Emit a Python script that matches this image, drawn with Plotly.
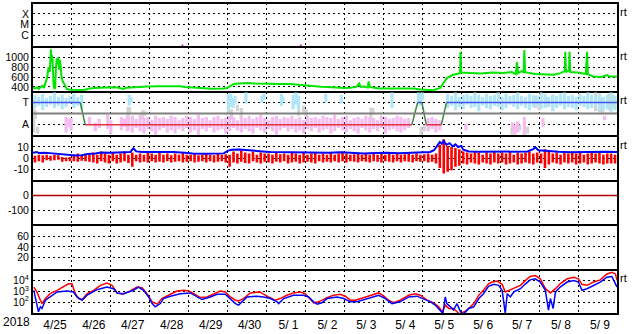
import numpy as np
import pandas as pd
import plotly.graph_objects as go
from plotly.subplots import make_subplots

T0 = pd.Timestamp("2018-04-25 00:00")
N_DAYS = 15
date_labels = ["4/25", "4/26", "4/27", "4/28", "4/29", "4/30", "5/ 1", "5/ 2",
               "5/ 3", "5/ 4", "5/ 5", "5/ 6", "5/ 7", "5/ 8", "5/ 9"]

# ---- X-ray (tiny events near bottom) ----
xray_day = [1.04, 3.84, 5.53, 5.79, 6.88]
xray_peak = [1.2e-7, 1.5e-7, 1.1e-7, 1.1e-7, 1.5e-7]

# ---- Solar wind speed ----
sw_day = [0.00, 0.05, 0.10, 0.15, 0.20, 0.25, 0.28, 0.32, 0.36, 0.40, 0.43, 0.45, 0.46, 0.47,
          0.48, 0.50, 0.51, 0.53, 0.55, 0.57, 0.59, 0.61, 0.63, 0.65, 0.67, 0.69, 0.71, 0.73,
          0.76, 0.79, 0.83, 0.87, 0.95, 1.05, 1.15, 1.25, 1.35, 1.45, 1.6, 1.8, 2.0, 2.17,
          2.25, 2.32, 2.4, 2.5, 2.7, 2.94, 3.2, 3.4, 3.6, 3.78, 3.9, 4.04, 4.2, 4.37, 4.6,
          4.89, 4.99, 5.1, 5.15, 5.3, 5.51, 5.7, 5.92, 6.2, 6.4, 6.61, 6.79, 7.0, 7.2, 7.4,
          7.56, 7.8, 8.0, 8.15, 8.3, 8.38, 8.41, 8.5, 8.6, 8.62, 8.65, 8.8, 8.92, 9.2, 9.5,
          9.77, 9.95, 10.1, 10.28, 10.46, 10.63, 10.79, 10.97, 10.98, 11.0, 11.23, 11.5, 11.8,
          12.08, 12.3, 12.4, 12.43, 12.46, 12.55, 12.6, 12.62, 12.64, 12.9, 13.1, 13.37, 13.55,
          13.66, 13.67, 13.69, 13.77, 13.78, 13.80, 14.0, 14.2, 14.23, 14.25, 14.39, 14.6,
          14.75, 14.8, 15.0]
sw_speed = [380, 370, 390, 360, 400, 420, 380, 470, 580, 800, 700, 1000, 1160, 900,
            1050, 980, 700, 420, 360, 380, 800, 980, 850, 1000, 750, 950, 820, 620,
            520, 470, 400, 360, 345, 340, 345, 338, 345, 370, 380, 392, 395, 390,
            375, 360, 385, 392, 400, 410, 412, 415, 410, 412, 400, 392, 380, 368, 365,
            366, 380, 430, 460, 470, 480, 468, 460, 462, 458, 460, 446, 430, 412, 405,
            400, 385, 380, 385, 400, 470, 400, 410, 390, 510, 400, 380, 366, 368, 365,
            366, 346, 340, 332, 380, 580, 646, 680, 1112, 690, 680, 670, 690,
            680, 700, 660, 900, 680, 720, 700, 1146, 700, 660, 650, 646, 680,
            720, 1112, 700, 740, 1112, 700, 690, 660, 1112, 660, 612, 600,
            640, 610, 612]

# ---- IMF sector (T = +1, A = -1) ----
sector_day = [0.0, 1.215, 1.34, 9.73, 9.88, 9.99, 10.10, 10.49, 10.62, 15.0]
sector_val = [1, 1, -1, -1, 1, 1, -1, -1, 1, 1]

# dense cyan (toward) streaks, regular 0.1-day bins
cyan1_start = 0.05
cyan1_lo = [0.5, 0.7, 0.3, 0.6, 0.8, 0.5, 0.7, 0.4, 0.6, 0.9, 0.5, 0.7, 0.4]
cyan1_hi = [1.7, 1.5, 1.8, 1.4, 1.6, 1.9, 1.5, 1.7, 1.4, 1.6, 1.8, 1.5, 1.7]
cyan2_start = 10.65
cyan2_hi = [1.8, 1.6, 1.9, 1.5, 1.7, 1.8, 1.6, 1.9, 1.7, 1.5,
            1.8, 1.6, 1.7, 1.9, 1.5, 1.8, 1.6, 1.7, 1.9, 1.6,
            1.5, 1.8, 1.7, 1.6, 1.9, 1.8, 1.5, 1.7, 1.6, 1.8,
            1.9, 1.6, 1.7, 1.5, 1.8, 1.6, 1.9, 1.7, 1.6, 1.8,
            1.5, 1.7, 1.9, 1.6]
cyan2_lo = [0.5, 0.7, 0.3, 0.6, 0.4, 0.8, 0.5, 0.6, 0.2, 0.7,
            0.5, 0.4, 0.7, 0.6, 0.3, 0.5, 0.8, 0.6, 0.4, 0.7,
            0.5, 0.3, 0.6, 0.7, 0.4, 0.5, 0.6, 0.2, 0.5, 0.7,
            0.4, 0.6, 0.5, 0.3, 0.7, 0.6, 0.4, 0.5, 0.7, 0.3,
            0.2, 0.4, 0.1, 0.3]
cyan_x_day = [2.47, 2.52, 5.02, 5.08, 5.14, 5.19, 5.47, 5.88, 5.93, 6.38, 6.42, 6.68,
              6.75, 6.82, 7.52, 7.92, 9.22, 9.90, 9.95, 10.0]
cyan_x_lo = [0.7, 1.0, 0.3, 0.6, 0.5, 0.9, 0.9, 1.0, 1.2, 0.7, 1.0, 0.4, 0.8, 0.3,
             1.0, 0.9, 0.5, 1.0, 0.7, 1.2]
cyan_x_hi = [1.7, 1.5, 1.7, 1.8, 1.4, 1.6, 1.9, 1.6, 1.8, 1.8, 1.5, 1.7, 1.9, 1.6,
             1.8, 1.7, 1.9, 1.9, 1.8, 1.9]

# dense pink (away) streaks, regular 0.1-day bins
pink_start = 2.45
pink_hi = [-0.3, -0.2, -0.5, -0.1, -0.4, -0.3, -0.6, -0.2, -0.4, -0.3,
           -0.5, -0.2, -0.3, -0.6, -0.4, -0.2, -0.3, -0.5, -0.1, -0.4,
           -0.3, -0.6, -0.3, -0.2, -0.5, -0.4, -0.2, -0.3, -0.6, -0.3,
           -0.4, -0.2, -0.5, -0.3, -0.1, -0.4, -0.6, -0.3, -0.2, -0.5,
           -0.3, -0.4, -0.2, -0.5, -0.3, -0.6, -0.2, -0.4, -0.3, -0.5,
           -0.2, -0.3, -0.4, -0.1, -0.5, -0.3, -0.2, -0.6, -0.4, -0.3,
           -0.5, -0.2, -0.3, -0.4, -0.6, -0.2, -0.3, -0.5, -0.4, -0.2,
           -0.3, -0.5, -0.4]
pink_lo = [-1.5, -1.7, -1.3, -1.6, -1.8, -1.4, -1.6, -1.9, -1.5, -1.3,
           -1.7, -1.5, -1.8, -1.4, -1.6, -1.3, -1.7, -1.5, -1.9, -1.4,
           -1.6, -1.3, -1.7, -1.5, -1.4, -1.8, -1.6, -1.3, -1.5, -1.7,
           -1.4, -1.6, -1.8, -1.3, -1.5, -1.7, -1.4, -1.6, -1.9, -1.5,
           -1.3, -1.6, -1.4, -1.7, -1.5, -1.8, -1.4, -1.6, -1.3, -1.7,
           -1.5, -1.4, -1.8, -1.6, -1.3, -1.5, -1.7, -1.4, -1.6, -1.8,
           -1.3, -1.5, -1.7, -1.4, -1.6, -1.3, -1.8, -1.5, -1.4, -1.6,
           -1.7, -1.5, -1.3]
pink_x_day = [0.85, 0.92, 0.98, 1.45, 1.6, 1.7, 1.92, 2.0, 2.27, 2.35, 2.42, 10.15, 10.25,
              10.35, 10.45, 11.12, 12.32, 12.38, 12.45, 12.62, 13.1, 14.68]
pink_x_lo = [-1.7, -1.2, -1.5, -1.0, -1.6, -1.3, -1.4, -1.8, -1.5, -1.2, -1.6, -1.6, -1.4,
             -1.7, -1.5, -1.5, -1.6, -1.9, -1.7, -2.0, -1.2, -0.6]
pink_x_hi = [-0.3, -0.5, -0.4, -0.3, -0.8, -0.5, -0.1, -0.6, -0.3, -0.5, -0.2, -0.4, -0.3,
             -0.5, -0.6, -0.9, -0.8, -1.0, -0.7, -0.3, -0.4, -0.2]

gray_day = [0.02, 0.06, 0.12, 2.44, 2.48, 2.82, 2.87, 5.02, 5.1, 5.25, 5.35, 6.82, 6.95,
            7.02, 8.68, 8.73, 9.97, 10.05, 12.3, 12.5, 12.7, 12.9, 13.0, 13.2, 13.35,
            14.45, 14.55, 14.62, 14.8, 14.9]
gray_lo = [-1.7, -0.5, -1.8, -0.3, 0.0, -0.6, -0.2, 0.0, -0.5, 0.2, -0.4, -0.2, 0.1,
           -0.3, -0.8, 0.0, -2.0, -1.6, -1.9, -1.5, -1.8, 0.5, 0.3, 0.6, 0.4,
           0.2, 0.1, 0.0, 0.3, 0.5]
gray_hi = [0.8, 0.3, -1.2, 0.6, 0.6, 0.3, 0.2, 0.6, 0.4, 0.8, 0.5, 0.6, 0.7,
           0.4, 0.55, 0.5, -1.2, -1.0, -1.3, -1.0, -1.2, 1.6, 1.2, 1.5, 1.7,
           1.9, 1.8, 1.4, 1.8, 1.7]

# ---- IMF magnitude and Bz ----
bt_day = [0.0, 0.1, 0.15, 0.3, 0.5, 0.7, 0.9, 1.1, 1.25, 1.4, 1.6, 1.75, 2.0, 2.3, 2.5,
          2.58, 2.65, 2.8, 3.0, 3.3, 3.6, 3.9, 4.1, 4.4, 4.7, 4.9, 5.0, 5.1, 5.3, 5.5,
          5.7, 5.9, 6.1, 6.4, 6.7, 7.0, 7.3, 7.6, 7.9, 8.2, 8.5, 8.8, 9.1, 9.4, 9.7,
          10.0, 10.2, 10.3, 10.38, 10.45, 10.5, 10.55, 10.62, 10.7, 10.78, 10.85, 10.92,
          11.0, 11.05, 11.2, 11.5, 11.8, 12.1, 12.4, 12.7, 12.85, 12.9, 12.98, 13.2,
          13.5, 13.8, 14.1, 14.4, 14.7, 15.0]
bt_nt = [4.8, 5.5, 4.5, 4.8, 4.2, 3.6, 2.5, 2.2, 2.6, 3.6, 4.0, 5.0, 4.8, 5.0, 5.5,
         8.8, 6.0, 5.5, 5.6, 5.2, 5.5, 4.8, 4.0, 3.8, 4.0, 4.2, 6.5, 7.5, 7.8, 7.4,
         7.0, 6.0, 5.4, 5.2, 5.6, 5.3, 5.0, 4.8, 5.2, 4.6, 4.2, 4.5, 4.8, 4.4, 4.6,
         5.0, 5.5, 7.0, 11.5, 14.5, 13.0, 15.5, 12.0, 13.5, 10.5, 12.5, 10.0,
         11.0, 7.5, 6.0, 5.6, 5.8, 5.4, 5.6, 5.9, 8.0, 9.8, 7.0, 6.2,
         5.6, 5.3, 5.5, 5.2, 5.6, 5.4]

bz_hi = [2, 3, 2.5, 3, 2, 3, 2.5, 1, 0.5, 1,
         3, 4, 2.5, 3.5, 3, 5, 3, 6, 4, 3,
         5, 3, 4, 6, 3, 5, 3, 4, 3, 5,
         4, 3, 5, 3, 4, 2.5, 4, 3, 5, 3,
         3, 4, 2.5, 3, 4, 3, 2.5, 4, 3, 3.5,
         3, 6, 4, 7, 5, 4, 6, 3, 5, 4,
         4, 3, 5, 3.5, 4, 3, 5, 4, 3, 4.5,
         3, 4, 5, 3, 4, 3, 4.5, 3, 4, 6,
         4, 3, 3.5, 4, 3, 4.5, 3, 4, 3, 5,
         3, 4, 3, 4.5, 3, 3.5, 4, 3, 4, 3,
         3.5, 4, 3, 4, 12, 17, 11, 10, 9, 8,
         6, 5, 4, 6, 5, 3, 5, 4, 6, 4,
         5, 4, 6, 3, 5, 4, 5, 6, 4, 5,
         4, 8, 6, 4, 5, 3, 5, 4, 6, 4,
         5, 3, 4, 6, 4, 5, 3, 4, 4, 3]
bz_lo = [-4, -3, -4, -2, -2.5, -2, -1.5, -3.5, -3, -3,
         -3, -3.5, -2.5, -3, -3.5, -4, -5, -3, -4, -5,
         -3, -5, -4, -3, -4.5, -8, -3, -4, -3.5, -4,
         -3, -4, -3.5, -4, -3, -4, -3.5, -3, -4, -3.5,
         -3, -4, -3.5, -3, -4, -3, -4, -3.5, -3, -4,
         -8, -4, -5, -3.5, -4.5, -5, -3, -4, -5, -3.5,
         -4, -5, -3.5, -4, -3, -5, -4, -3.5, -5, -4,
         -3.5, -4, -5, -3, -4, -3.5, -4, -3, -4, -3,
         -4, -3, -3.5, -4, -3, -3.5, -4, -3, -3.5, -4,
         -3, -3.5, -4, -3, -4, -3, -3.5, -4, -3, -3.5,
         -3, -4, -3.5, -5, -9, -14, -12.5, -11, -8, -7,
         -5, -6, -4, -5, -6, -4, -5, -6, -4, -5,
         -4, -6, -5, -4, -6, -5, -4, -5, -6, -4,
         -5, -9, -6, -4, -5, -6, -4, -5, -4, -6,
         -5, -4, -6, -5, -4, -5, -6, -5, -5, -5]

# ---- Electron flux (log10) ----
fr_day = [0.02, 0.10, 0.19, 0.23, 0.32, 0.44, 0.62, 0.79, 0.91, 1.00, 1.09, 1.17, 1.26, 1.39,
          1.56, 1.73, 1.90, 2.03, 2.16, 2.29, 2.50, 2.67, 2.80, 2.93, 3.06, 3.19, 3.31, 3.53,
          3.70, 3.87, 4.00, 4.13, 4.30, 4.47, 4.64, 4.81, 4.94, 5.07, 5.20, 5.28, 5.41, 5.58,
          5.84, 5.92, 6.05, 6.22, 6.35, 6.52, 6.69, 6.87, 6.99, 7.12, 7.21, 7.34, 7.46, 7.55,
          7.72, 7.89, 8.02, 8.15, 8.28, 8.49, 8.66, 8.88, 9.01, 9.13, 9.26, 9.43, 9.65, 9.82,
          9.95, 10.12, 10.29, 10.42, 10.51, 10.59, 10.68, 10.80, 10.89, 10.95, 11.15, 11.32,
          11.45, 11.57, 11.70, 11.79, 11.92, 12.05, 12.13, 12.22, 12.35, 12.52, 12.65, 12.77,
          12.90, 13.03, 13.16, 13.29, 13.42, 13.54, 13.72, 13.89, 14.01, 14.10, 14.23, 14.40,
          14.57, 14.74, 14.87, 14.96, 15.0]
fr_log = [3.39, 2.94, 2.18, 1.87, 2.33, 2.78, 3.09, 3.48, 3.69, 3.69, 2.78, 2.33, 2.24, 2.78,
          3.09, 3.55, 3.75, 3.55, 2.85, 2.73, 3.03, 3.39, 3.33, 2.78, 2.03, 1.82, 2.33, 2.73,
          3.03, 3.09, 3.03, 2.78, 2.42, 2.48, 2.78, 3.03, 2.94, 2.48, 2.18, 2.12, 2.33, 2.85,
          2.94, 2.73, 2.48, 2.18, 2.33, 2.64, 2.85, 2.94, 2.78, 2.33, 1.94, 2.03, 2.24, 2.42,
          2.64, 2.73, 2.55, 2.18, 2.18, 2.42, 2.64, 2.85, 2.55, 2.18, 1.96, 2.18, 2.64, 2.78,
          2.64, 2.18, 1.94, 1.57, 1.12, 1.73, 1.42, 1.42, 1.12, 0.9, 1.27, 1.87,
          2.64, 3.09, 3.69, 3.85, 3.94, 3.64, 2.94, 3.09, 3.24, 3.55, 4.0, 4.36,
          4.45, 4.15, 3.24, 2.85, 3.24, 3.69, 4.15, 4.30, 4.15, 3.64, 3.55, 3.85,
          4.05, 4.6, 4.75, 4.6, 4.0]
fb_day = [0.02, 0.10, 0.14, 0.19, 0.23, 0.32, 0.44, 0.62, 0.87, 1.04, 1.13, 1.26, 1.39, 1.64,
          1.90, 2.07, 2.16, 2.33, 2.58, 2.71, 2.84, 2.97, 3.06, 3.14, 3.27, 3.35, 3.53, 3.78,
          4.04, 4.21, 4.34, 4.55, 4.73, 4.94, 5.07, 5.20, 5.28, 5.37, 5.50, 5.75, 5.92, 6.10,
          6.27, 6.31, 6.44, 6.69, 6.95, 7.08, 7.21, 7.30, 7.42, 7.55, 7.81, 7.98, 8.15, 8.32,
          8.58, 8.88, 9.05, 9.22, 9.43, 9.65, 9.86, 10.03, 10.21, 10.33, 10.46, 10.53, 10.59,
          10.63, 10.72, 10.80, 10.89, 10.98, 11.06, 11.19, 11.32, 11.45, 11.57, 11.70, 11.83,
          11.96, 12.05, 12.13, 12.18, 12.26, 12.35, 12.52, 12.65, 12.77, 12.90, 13.03, 13.16,
          13.24, 13.29, 13.36, 13.42, 13.54, 13.72, 13.89, 14.01, 14.10, 14.23, 14.40, 14.57,
          14.74, 14.87, 14.96, 15.0]
fb_log = [3.09, 1.87, 1.12, 1.57, 1.42, 2.18, 2.48, 2.94, 3.03, 2.94, 2.48, 2.18, 2.64, 3.15,
          3.39, 3.24, 2.85, 2.78, 3.09, 3.39, 3.09, 2.48, 1.87, 1.57, 1.87, 2.33, 2.55, 2.78,
          2.85, 2.48, 2.24, 2.48, 2.73, 2.73, 2.33, 1.87, 1.73, 2.03, 2.48, 2.55, 2.48, 2.33,
          2.03, 1.87, 2.33, 2.64, 2.64, 2.48, 2.03, 1.82, 1.94, 2.33, 2.48, 2.33, 2.03, 2.03,
          2.33, 2.64, 2.33, 1.87, 2.03, 2.48, 2.55, 2.33, 2.03, 1.73, 1.27, 0.96, 2.48,
          1.87, 1.57, 1.27, 1.87, 1.12, 0.9, 1.42, 1.57, 2.33, 2.78, 3.45, 3.64,
          3.55, 3.09, 0.96, 2.78, 2.48, 2.94, 3.24, 3.69, 4.05, 4.15, 3.85, 3.09,
          1.27, 2.33, 1.42, 2.94, 3.39, 3.85, 4.0, 3.85, 3.09, 3.24, 3.55, 3.85,
          4.30, 4.36, 3.69, 3.39]
flux_threshold = 1e4

# ------------------------------------------------------------------
def tt(d):
    return T0 + pd.Timedelta(days=float(d))


def streaks(days, lo, hi):
    xs, ys = [], []
    for d, a, b in zip(days, lo, hi):
        xs += [tt(d), tt(d), None]
        ys += [a, b, None]
    return xs, ys


FONT = "Liberation Sans, Arial, sans-serif"
fig = make_subplots(rows=7, cols=1, shared_xaxes=True, vertical_spacing=0)

# row 1: X-ray marks
xs, ys = streaks(xray_day, [1e-8] * len(xray_day), xray_peak)
fig.add_trace(go.Scatter(x=xs, y=ys, mode="lines", line=dict(color="#c000c0", width=1.5)),
              row=1, col=1)

# row 2: solar wind speed
fig.add_trace(go.Scatter(x=[tt(d) for d in sw_day], y=sw_speed, mode="lines",
                         line=dict(color="#00e600", width=2)), row=2, col=1)

# row 3: sector
cyan_days = [cyan1_start + 0.1 * i for i in range(len(cyan1_lo))] + \
            [cyan2_start + 0.1 * i for i in range(len(cyan2_lo))] + cyan_x_day
cyan_lo = cyan1_lo + cyan2_lo + cyan_x_lo
cyan_hi = cyan1_hi + cyan2_hi + cyan_x_hi
pink_days = [pink_start + 0.1 * i for i in range(len(pink_lo))] + pink_x_day
pk_lo = pink_lo + pink_x_lo
pk_hi = pink_hi + pink_x_hi
for dd, lo, hi, col in [(gray_day, gray_lo, gray_hi, "#d4d4d4"),
                        (cyan_days, cyan_lo, cyan_hi, "#b0e6f8"),
                        (pink_days, pk_lo, pk_hi, "#f4bcf0")]:
    xs, ys = streaks(dd, lo, hi)
    fig.add_trace(go.Scatter(x=xs, y=ys, mode="lines", line=dict(color=col, width=3.2)),
                  row=3, col=1)
fig.add_hline(y=0, line=dict(color="#808080", width=2), row=3, col=1)
for i in range(len(sector_day) - 1):
    a, b = sector_val[i], sector_val[i + 1]
    col = ("#4455ee" if a > 0 else "#e83040") if a == b else "#3c8a3c"
    fig.add_trace(go.Scatter(x=[tt(sector_day[i]), tt(sector_day[i + 1])], y=[a, b],
                             mode="lines", line=dict(color=col, width=1.5)), row=3, col=1)

# row 4: IMF
fig.add_hline(y=0, line=dict(color="#a00000", width=1), row=4, col=1)
bz_days = [0.05 + 0.1 * i for i in range(len(bz_lo))]
xs, ys = streaks(bz_days, bz_lo, bz_hi)
fig.add_trace(go.Scatter(x=xs, y=ys, mode="lines", line=dict(color="#ff0000", width=2.6)),
              row=4, col=1)
fig.add_trace(go.Scatter(x=[tt(d) for d in bt_day], y=bt_nt, mode="lines",
                         line=dict(color="#0000ff", width=2)), row=4, col=1)

# rows 5 and 6: empty data panels (anchor traces so axes are drawn)
fig.add_trace(go.Scatter(x=[T0], y=[0], mode="lines", hoverinfo="skip"), row=5, col=1)
fig.add_trace(go.Scatter(x=[T0], y=[0], mode="lines", hoverinfo="skip"), row=6, col=1)
fig.add_hline(y=0, line=dict(color="#b00000", width=1.5), row=5, col=1)

# row 7: electron flux
fig.add_hline(y=flux_threshold, line=dict(color="#b00000", width=1.5, dash="10px,3px,2px,3px"),
              row=7, col=1)
fig.add_trace(go.Scatter(x=[tt(d) for d in fr_day], y=[10 ** v for v in fr_log], mode="lines",
                         line=dict(color="#ff0000", width=1.5)), row=7, col=1)
fig.add_trace(go.Scatter(x=[tt(d) for d in fb_day], y=[10 ** v for v in fb_log], mode="lines",
                         line=dict(color="#0000ff", width=1.5)), row=7, col=1)

# axes
label_pos = [T0 + pd.Timedelta(days=i, hours=13.5) for i in range(N_DAYS)]
day_lines = [T0 + pd.Timedelta(days=i) for i in range(1, N_DAYS)]
GRID = dict(gridcolor="black", gridwidth=1.2, griddash="2px,3px")
for r in range(1, 8):
    fig.update_xaxes(range=[T0, T0 + pd.Timedelta(days=N_DAYS)], showline=True, mirror=True,
                     linecolor="black", linewidth=1, ticks="", showgrid=False,
                     tickmode="array", tickvals=label_pos, ticktext=date_labels,
                     showticklabels=(r == 7), tickfont=dict(family=FONT, size=12, color="black"),
                     minor=dict(tickvals=day_lines, showgrid=True, ticks="", **GRID),
                     row=r, col=1)

yspec = {
    1: dict(type="log", range=[-7.09, -3.0], tickvals=[1e-4, 1e-5, 1e-6], ticktext=["X", "M", "C"]),
    2: dict(range=[300, 1200], tickvals=[400, 600, 800, 1000], ticktext=["400", "600", "800", "1000"]),
    3: dict(range=[-2.05, 1.96], tickvals=[1, -1], ticktext=["T", "A"]),
    4: dict(range=[-20.6, 19.7], tickvals=[10, 0, -10], ticktext=["10", "0", "-10"]),
    5: dict(range=[-200, 100], tickvals=[0, -100], ticktext=["0", "-100"]),
    6: dict(range=[-1.8, 80], tickvals=[20, 40, 60], ticktext=["20", "40", "60"]),
    7: dict(type="log", range=[0.91, 5.0], tickvals=[1e2, 1e3, 1e4],
            ticktext=["10<sup>2</sup>", "10<sup>3</sup>", "10<sup>4</sup>"]),
}
for r, spec in yspec.items():
    fig.update_yaxes(showline=True, mirror=True, linecolor="black", linewidth=2, ticks="",
                     zeroline=False, showgrid=True, tickmode="array",
                     tickfont=dict(family=FONT, size=10.5, color="black"),
                     row=r, col=1, **GRID, **spec)

annos = [dict(text="2018", x=-0.028, y=-0.027, xref="paper", yref="paper", showarrow=False,
              font=dict(family=FONT, size=12, color="black"), xanchor="center", yanchor="middle")]
for yp in [0.971, 0.829, 0.687, 0.543, 0.116]:
    annos.append(dict(text="rt", x=1, y=yp, xref="paper", yref="paper", showarrow=False,
                      xanchor="left", yanchor="middle", xshift=1,
                      font=dict(family=FONT, size=11, color="black")))

frame = [dict(type="line", xref="paper", yref="paper", x0=0, x1=1, y0=yy, y1=yy,
              line=dict(color="black", width=2)) for yy in (0, 1)]

fig.update_layout(width=633, height=334, margin=dict(l=33, r=16, t=2, b=17),
                  paper_bgcolor="white", plot_bgcolor="white", showlegend=False,
                  annotations=annos, shapes=list(fig.layout.shapes) + frame)
fig.write_html("out.html")
